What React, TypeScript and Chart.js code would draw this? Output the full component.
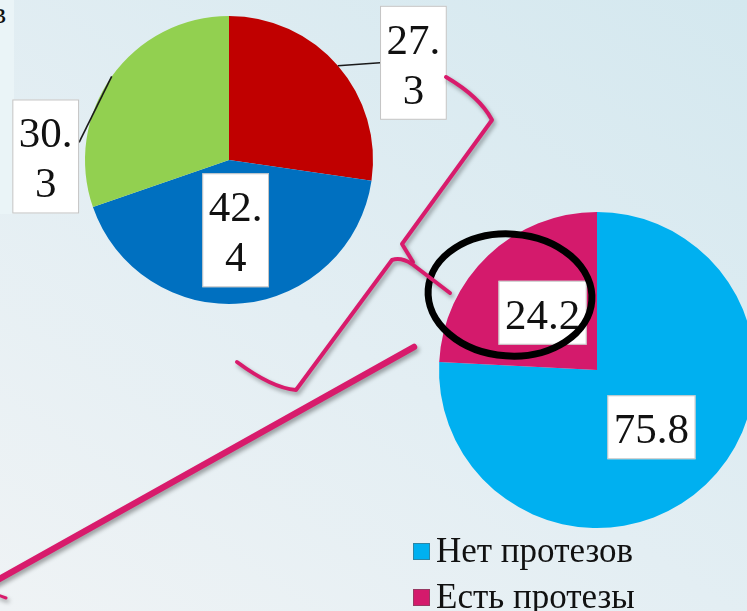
import React, { useEffect, useRef } from "react";
import { Chart, registerables } from "chart.js";

Chart.register(...registerables);

// ---------- data ----------
const pie1Labels = ["Группа 1", "Группа 2", "Группа 3"];
const pie1Values = [27.3, 42.4, 30.3];
const pie1Colors = ["#c00000", "#0070c0", "#92d050"];

const pie2Labels = ["Нет протезов", "Есть протезы"];
const pie2Values = [75.8, 24.2];
const pie2Colors = ["#00b0f0", "#d41a6c"];

// ---------- styling / layout ----------
const SERIF = "'Liberation Serif', 'Times New Roman', serif";
const LABEL_FONT = 43;
const LINE_H = 50;
const PADX = 6.5;
const PADY = 7;
const PINK = "#d81b6c";

type Place =
  | { inside: true; frac: number }
  | { inside: false; dx: number; dy: number; side: "left" | "right"; endDy: number };

const pie1Places: Place[] = [
  { inside: false, dx: 75.5, dy: -3, side: "left", endDy: 0 },
  { inside: true, frac: 0.49 },
  { inside: false, dx: -66, dy: 80, side: "right", endDy: -14 },
];
const pie2Places: Place[] = [
  { inside: true, frac: 0.5 },
  { inside: true, frac: 0.5 },
];

const makeLabelPlugin = (id: string, places: Place[], wrap: boolean) => ({
  id,
  afterDatasetsDraw(chart: any) {
    const ctx = chart.ctx as CanvasRenderingContext2D;
    const meta = chart.getDatasetMeta(0);
    const values = chart.data.datasets[0].data as number[];
    ctx.save();
    ctx.font = `${LABEL_FONT}px ${SERIF}`;
    meta.data.forEach((arc: any, i: number) => {
      const { x, y, startAngle, endAngle, outerRadius } = arc.getProps(
        ["x", "y", "startAngle", "endAngle", "outerRadius"],
        true
      );
      const mid = (startAngle + endAngle) / 2;
      const ex = x + Math.cos(mid) * outerRadius;
      const ey = y + Math.sin(mid) * outerRadius;
      const s = values[i].toFixed(1);
      const dot = s.indexOf(".");
      const lines = wrap ? [s.slice(0, dot + 1), s.slice(dot + 1)] : [s];
      const tw = Math.max(...lines.map((l) => ctx.measureText(l).width));
      const w = tw + 2 * PADX;
      const h = lines.length * LINE_H + 2 * PADY;
      const p = places[i];
      let cx: number, cy: number;
      if (p.inside) {
        cx = x + Math.cos(mid) * outerRadius * p.frac;
        cy = y + Math.sin(mid) * outerRadius * p.frac;
      } else {
        cx = ex + p.dx;
        cy = ey + p.dy;
      }
      const bx = cx - w / 2;
      const by = cy - h / 2;
      if (!p.inside) {
        ctx.beginPath();
        ctx.strokeStyle = "#1a1a1a";
        ctx.lineWidth = 1.6;
        ctx.moveTo(ex, ey);
        ctx.lineTo(p.side === "left" ? bx : bx + w, cy + p.endDy);
        ctx.stroke();
      }
      ctx.fillStyle = "#ffffff";
      ctx.fillRect(bx, by, w, h);
      ctx.strokeStyle = "rgba(180,180,180,0.8)";
      ctx.lineWidth = 1;
      ctx.strokeRect(bx + 0.5, by + 0.5, w - 1, h - 1);
      ctx.fillStyle = "#111111";
      ctx.textAlign = "center";
      ctx.textBaseline = "alphabetic";
      lines.forEach((l, k) => {
        ctx.fillText(l, cx, by + PADY + k * LINE_H + 41);
      });
    });
    ctx.restore();
  },
});

const legendPlugin = {
  id: "sideLegend",
  afterDraw(chart: any) {
    const ctx = chart.ctx as CanvasRenderingContext2D;
    const labels = chart.data.labels as string[];
    const colors = chart.data.datasets[0].backgroundColor as string[];
    ctx.save();
    ctx.font = `35px ${SERIF}`;
    ctx.textAlign = "left";
    ctx.textBaseline = "alphabetic";
    labels.forEach((lab, i) => {
      const top = 543 + i * 46;
      ctx.fillStyle = colors[i];
      ctx.fillRect(413, top, 17, 17);
      ctx.strokeStyle = "rgba(90,90,90,0.5)";
      ctx.lineWidth = 1;
      ctx.strokeRect(413.5, top + 0.5, 16, 16);
      ctx.fillStyle = "#111111";
      ctx.fillText(lab, 436, top + 19);
    });
    ctx.restore();
  },
};

const decorPlugin = {
  id: "decor",
  afterDraw(chart: any) {
    const ctx = chart.ctx as CanvasRenderingContext2D;
    ctx.save();
    // black ellipse
    ctx.beginPath();
    ctx.ellipse(510, 295, 82, 61, 0.07, 0, Math.PI * 2);
    ctx.strokeStyle = "#000000";
    ctx.lineWidth = 7;
    ctx.stroke();

    ctx.shadowColor = "rgba(0,0,0,0.35)";
    ctx.shadowBlur = 4;
    ctx.shadowOffsetX = 2;
    ctx.shadowOffsetY = 3;
    ctx.strokeStyle = PINK;
    ctx.lineCap = "round";
    ctx.lineJoin = "round";

    // bracket upper part
    ctx.lineWidth = 4;
    ctx.beginPath();
    ctx.moveTo(446, 77);
    ctx.quadraticCurveTo(480, 97, 492, 120);
    ctx.lineTo(402, 244);
    ctx.lineTo(413, 262);
    ctx.stroke();

    // bracket lower part
    ctx.beginPath();
    ctx.moveTo(450, 293);
    ctx.lineTo(412, 264);
    ctx.quadraticCurveTo(401, 257, 392, 260);
    ctx.lineTo(296, 390);
    ctx.quadraticCurveTo(272, 388, 237, 362);
    ctx.stroke();

    // long line
    ctx.lineWidth = 6.5;
    ctx.beginPath();
    ctx.moveTo(414, 347);
    ctx.lineTo(-6, 582);
    ctx.stroke();

    ctx.lineWidth = 3;
    ctx.beginPath();
    ctx.moveTo(-2, 595);
    ctx.lineTo(6, 598);
    ctx.stroke();
    ctx.restore();
  },
};

const App = () => {
  const ref1 = useRef<HTMLCanvasElement>(null);
  const ref2 = useRef<HTMLCanvasElement>(null);

  useEffect(() => {
    const c1 = new Chart(ref1.current as HTMLCanvasElement, {
      type: "pie",
      data: {
        labels: pie1Labels,
        datasets: [
          {
            data: pie1Values,
            backgroundColor: pie1Colors,
            borderWidth: 0,
            hoverOffset: 0,
            radius: 144,
          } as any,
        ],
      },
      options: {
        responsive: false,
        animation: false,
        devicePixelRatio: 1,
        events: [],
        layout: { padding: { left: 85, top: 16, right: 747 - 373, bottom: 611 - 304 } },
        plugins: { legend: { display: false }, tooltip: { enabled: false } },
      },
      plugins: [makeLabelPlugin("labels1", pie1Places, true)],
    });

    const c2 = new Chart(ref2.current as HTMLCanvasElement, {
      type: "pie",
      data: {
        labels: pie2Labels,
        datasets: [
          {
            data: pie2Values,
            backgroundColor: pie2Colors,
            borderWidth: 0,
            hoverOffset: 0,
            radius: 158,
          } as any,
        ],
      },
      options: {
        responsive: false,
        animation: false,
        devicePixelRatio: 1,
        events: [],
        layout: { padding: { left: 439, top: 212, right: 800 - 755, bottom: 611 - 528 } },
        plugins: { legend: { display: false }, tooltip: { enabled: false } },
      },
      plugins: [makeLabelPlugin("labels2", pie2Places, false), legendPlugin, decorPlugin],
    });

    return () => {
      c1.destroy();
      c2.destroy();
    };
  }, []);

  return (
    <div
      style={{
        position: "fixed",
        left: 0,
        top: 0,
        width: 747,
        height: 611,
        overflow: "hidden",
        background: "linear-gradient(35deg, #eff3f5 0%, #e3eef3 45%, #d4e8ef 100%)",
      }}
    >
      <div
        style={{
          position: "absolute",
          left: 0,
          top: 0,
          width: 14,
          height: 214,
          background: "#eaf4f7",
        }}
      />
      <span
        style={{
          position: "absolute",
          left: -8,
          top: -2,
          fontFamily: SERIF,
          fontSize: 30,
          color: "#111",
          lineHeight: "30px",
        }}
      >
        в
      </span>
      <canvas ref={ref1} width={747} height={611} style={{ position: "absolute", left: 0, top: 0 }} />
      <canvas ref={ref2} width={800} height={611} style={{ position: "absolute", left: 0, top: 0 }} />
    </div>
  );
};

export default App;
